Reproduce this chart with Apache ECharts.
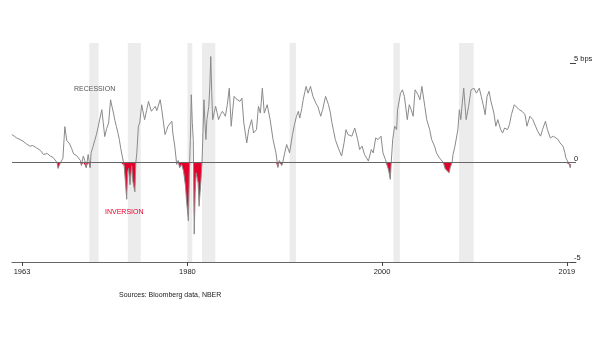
<!DOCTYPE html>
<html>
<head>
<meta charset="utf-8">
<script src="https://cdn.jsdelivr.net/npm/echarts@6/dist/echarts.min.js"></script>
<style>
html,body{margin:0;padding:0;background:#fff;}
#chart{width:605px;height:341px;}
</style>
</head>
<body>
<div id="chart"></div>
<script>
// Yield-curve spread (percentage points)
const years = [
1961.95,1962.2,1962.45,1962.8,1963.1,1963.4,1963.8,1964.1,1964.5,1964.9,
1965.2,1965.6,1965.9,1966.2,1966.4,1966.6,1966.7,1966.9,1967.2,1967.4,
1967.6,1967.9,1968.1,1968.3,1968.6,1968.8,1969.0,1969.1,1969.3,1969.45,
1969.6,1969.8,1970.0,1970.1,1970.3,1970.5,1970.65,1970.8,1971.0,1971.2,
1971.35,1971.5,1971.7,1971.9,1972.1,1972.25,1972.4,1972.55,1972.7,1972.85,
1973.0,1973.15,1973.3,1973.5,1973.6,1973.76,1973.85,1973.95,1974.1,1974.27,
1974.4,1974.6,1974.7,1974.8,1974.96,1975.1,1975.3,1975.4,1975.6,1975.8,
1976.0,1976.15,1976.3,1976.5,1976.7,1976.85,1977.0,1977.2,1977.35,1977.5,
1977.7,1977.85,1978.0,1978.2,1978.4,1978.5,1978.7,1978.9,1979.05,1979.2,
1979.4,1979.6,1979.8,1979.9,1980.1,1980.2,1980.3,1980.4,1980.5,1980.6,
1980.7,1980.8,1980.9,1981.1,1981.2,1981.3,1981.4,1981.5,1981.6,1981.7,
1981.8,1981.9,1982.0,1982.2,1982.3,1982.4,1982.5,1982.6,1982.75,1982.9,
1983.05,1983.2,1983.4,1983.6,1983.75,1983.9,1984.1,1984.3,1984.4,1984.5,
1984.65,1984.8,1985.0,1985.2,1985.4,1985.6,1985.8,1986.1,1986.3,1986.6,
1986.8,1987.1,1987.3,1987.5,1987.7,1987.9,1988.2,1988.5,1988.8,1989.1,
1989.3,1989.45,1989.7,1989.8,1990.0,1990.2,1990.5,1990.8,1991.0,1991.2,
1991.4,1991.55,1991.75,1991.9,1992.05,1992.2,1992.4,1992.65,1992.9,1993.2,
1993.4,1993.7,1993.9,1994.2,1994.5,1994.7,1994.85,1995.0,1995.2,1995.5,
1995.65,1995.85,1996.1,1996.3,1996.5,1996.7,1996.9,1997.2,1997.5,1997.7,
1997.95,1998.2,1998.4,1998.6,1998.9,1999.1,1999.35,1999.6,1999.9,2000.1,
2000.35,2000.55,2000.7,2000.85,2000.95,2001.1,2001.3,2001.5,2001.6,2001.9,
2002.1,2002.3,2002.6,2002.8,2003.0,2003.2,2003.4,2003.7,2003.9,2004.1,
2004.4,2004.6,2004.9,2005.1,2005.4,2005.6,2005.9,2006.1,2006.3,2006.5,
2006.7,2006.9,2007.0,2007.2,2007.3,2007.5,2007.6,2007.8,2007.95,2008.1,
2008.25,2008.4,2008.65,2008.9,2009.15,2009.3,2009.45,2009.7,2010.0,2010.2,
2010.4,2010.6,2010.8,2011.0,2011.2,2011.5,2011.7,2011.9,2012.2,2012.4,
2012.6,2012.9,2013.1,2013.3,2013.6,2013.8,2014.1,2014.4,2014.7,2014.9,
2015.2,2015.5,2015.7,2016.0,2016.3,2016.5,2016.8,2017.0,2017.3,2017.6,
2017.8,2018.1,2018.3,2018.6,2018.8,2018.9,2019.1,2019.25,2019.35,2019.4
];
const spreadValues = [
1.40,1.32,1.23,1.15,1.07,0.95,0.82,0.85,0.73,0.60,
0.40,0.45,0.32,0.25,0.18,0.00,-0.30,-0.05,0.20,1.80,
1.10,0.93,0.70,0.43,0.35,0.25,0.10,-0.15,0.32,0.10,
-0.27,0.40,-0.27,0.48,0.80,1.15,1.40,1.73,2.20,2.65,
2.00,1.30,1.70,1.98,3.15,2.80,2.48,2.10,1.80,1.50,
1.15,0.70,0.32,-0.17,-0.80,-1.85,-0.52,-0.30,-1.12,-0.17,
-0.97,-1.47,0.00,0.48,1.82,1.98,2.90,2.82,2.15,2.60,
3.07,2.80,2.57,2.70,2.82,2.60,2.65,3.15,2.70,2.15,
1.40,1.60,1.82,1.90,2.07,1.48,0.82,-0.10,0.10,-0.27,
-0.10,-0.43,-1.18,-1.85,-2.93,-0.50,1.15,3.40,2.00,1.15,
-3.60,-1.50,-0.52,-1.02,-2.20,-1.50,-0.85,0.00,1.50,3.15,
2.00,1.15,2.15,2.82,3.80,5.32,3.50,2.15,2.50,2.82,
2.50,2.15,2.40,2.57,2.45,2.32,2.90,3.73,2.80,1.82,
2.60,3.32,3.20,3.15,3.07,3.23,1.98,0.98,1.65,2.15,
1.48,1.65,2.82,2.48,3.73,2.48,2.90,2.15,1.15,0.48,
-0.25,0.10,-0.15,0.00,0.48,0.90,0.48,1.40,1.90,2.30,
2.57,2.23,2.70,3.15,3.50,3.82,3.48,3.82,3.32,2.98,
2.82,2.32,2.65,3.32,2.90,2.48,2.00,1.65,1.15,0.73,
0.82,0.32,0.98,1.65,1.40,1.48,1.32,1.73,1.15,0.65,
0.82,0.40,0.30,0.07,0.65,0.48,1.23,1.15,1.32,0.48,
0.15,-0.17,-0.43,-0.85,0.00,1.15,1.82,1.65,2.65,3.48,
3.65,3.32,2.15,2.90,2.65,2.32,3.65,3.40,3.15,3.82,
2.82,2.15,1.65,1.15,0.82,0.48,0.23,0.32,0.00,-0.32,
-0.27,-0.52,-0.27,0.00,0.40,0.82,0.73,1.65,2.65,2.15,
3.00,3.73,2.15,2.82,3.65,3.60,3.73,3.48,3.73,3.32,
2.90,2.40,3.32,3.57,3.07,2.48,1.82,2.15,1.65,1.48,
1.73,1.65,1.90,2.40,2.90,2.82,2.65,2.57,2.40,1.82,
2.32,2.15,2.23,1.57,1.32,1.65,2.07,1.65,1.23,1.32,
1.23,1.15,0.98,0.82,0.48,0.23,0.15,-0.10,-0.27,-0.10
];
// NBER recessions
const recessionStarts = [1969.92, 1973.87, 1980.0, 1981.5, 1990.5, 2001.17, 2007.92];
const recessionEnds   = [1970.87, 1975.2, 1980.5, 1982.87, 1991.17, 2001.83, 2009.42];
// Axis ticks
const xTickYears = [1963, 1980, 2000, 2019];
const yTickValues = [-5, 0, 5];

const lineData = years.map((y, i) => [y, spreadValues[i]]);
const invData = years.map((y, i) => [y, Math.min(spreadValues[i], 0)]);
const bands = recessionStarts.map((s, i) => [{xAxis: s}, {xAxis: recessionEnds[i]}]);

const FONT = 'Liberation Sans, Arial, Helvetica, sans-serif';
const chart = echarts.init(document.getElementById('chart'), null, {renderer: 'canvas'});
chart.setOption({
  animation: false,
  backgroundColor: '#ffffff',
  grid: {left: 12, right: 29, top: 43, bottom: 79, containLabel: false, outerBoundsMode: 'none'},
  xAxis: {
    type: 'value', min: 1961.97, max: 2019.94,
    splitLine: {show: false},
    axisLine: {show: true, onZero: false, lineStyle: {color: '#666', width: 1}},
    axisTick: {show: true, customValues: xTickYears, length: 4, lineStyle: {color: '#444'}},
    axisLabel: {show: true, customValues: xTickYears, formatter: v => String(v), color: '#222',
      fontSize: 7.5, fontFamily: FONT, margin: 6}
  },
  yAxis: {
    type: 'value', min: -5, max: 6, position: 'right',
    splitLine: {show: false},
    axisLine: {show: false},
    axisTick: {show: true, inside: true, length: 6, customValues: yTickValues, lineStyle: {color: '#444'}},
    axisLabel: {show: true, customValues: yTickValues, inside: false, margin: -2, align: 'left',
      verticalAlign: 'bottom', color: '#222', fontSize: 7.5, fontFamily: FONT,
      formatter: v => v === 5 ? '5 bps' : String(v)}
  },
  series: [
    {
      type: 'line', data: invData, showSymbol: false, silent: true,
      lineStyle: {width: 0, opacity: 0},
      areaStyle: {color: '#e3002b', opacity: 1, origin: 0},
      z: 3,
      markArea: {silent: true, itemStyle: {color: '#ececec'}, data: bands, z: 1}
    },
    {
      type: 'line', data: lineData, showSymbol: false, silent: true,
      lineStyle: {color: '#8a8a8a', width: 1},
      z: 4,
      markLine: {silent: true, symbol: ['none', 'none'], label: {show: false},
        lineStyle: {color: '#666', width: 1, type: 'solid'}, data: [{yAxis: 0}]}
    }
  ],
  graphic: [
    {type: 'text', z: 100, left: 74, top: 86, style: {text: 'RECESSION', fill: '#555', font: '7px ' + FONT}},
    {type: 'text', z: 100, left: 105, top: 209, style: {text: 'INVERSION', fill: '#e3002b', font: '7px ' + FONT}},
    {type: 'text', z: 100, left: 119, top: 292, style: {text: 'Sources: Bloomberg data, NBER', fill: '#222', font: '7px ' + FONT}}
  ]
});
</script>
</body>
</html>
